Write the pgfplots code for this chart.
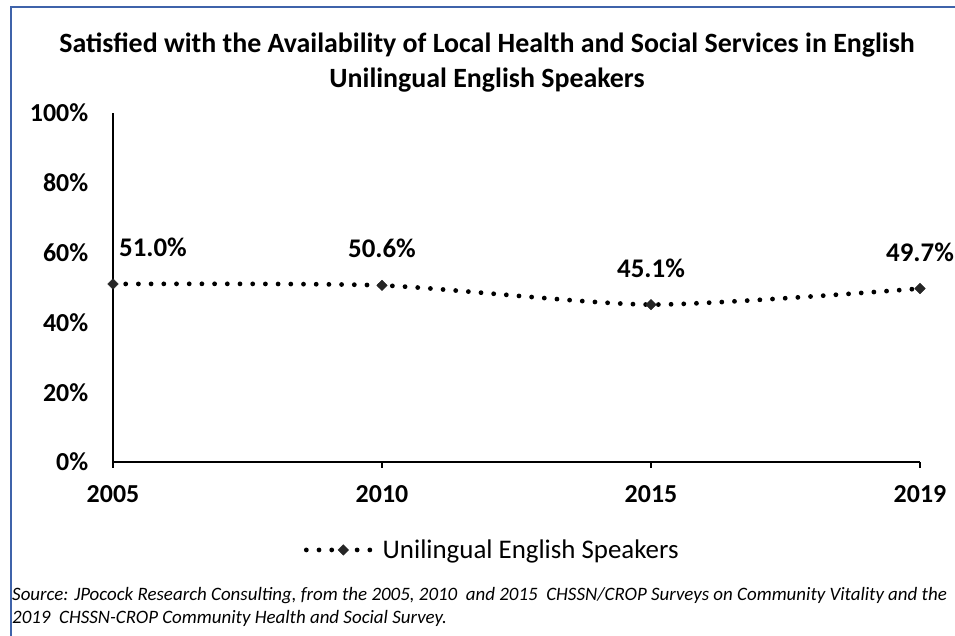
\documentclass[border=0pt]{standalone}
\usepackage{pgfplots}
\pgfplotsset{compat=1.18}
\usepackage{fontspec}
\setmainfont{Carlito}
\definecolor{framec}{HTML}{3F63AA}
\definecolor{markc}{HTML}{262626}
\begin{document}
\begin{tikzpicture}
\path[use as bounding box] (0bp,0bp) rectangle (955bp,636bp);
\draw[framec, line width=2.2bp] (11bp,0bp) -- (11bp,629bp) -- (955bp,629bp);
\node[font=\fontsize{28}{32}\selectfont\bfseries] at (487bp,591bp) {Satisfied with the Availability of Local Health and Social Services in English};
\node[font=\fontsize{28}{32}\selectfont\bfseries] at (487bp,556bp) {Unilingual English Speakers};
\node[font=\fontsize{19}{22}\selectfont\itshape, anchor=west, inner sep=0pt] at (12bp,40bp) {Source: JPocock Research Consulting, from the 2005, 2010\ \ and 2015\ \ CHSSN/CROP Surveys on Community Vitality and the};
\node[font=\fontsize{19}{22}\selectfont\itshape, anchor=west, inner sep=0pt] at (12bp,18bp) {2019\ \ CHSSN-CROP Community Health and Social Survey.};
\begin{axis}[
  at={(113bp,174bp)}, anchor=south west,
  scale only axis, width=807bp, height=349bp,
  xmin=0, xmax=3, ymin=0, ymax=100,
  clip=false,
  axis lines*=left,
  axis line style={black, line width=1.6bp},
  xtick={0,1,2,3}, xticklabels={2005,2010,2015,2019},
  ytick={0,20,40,60,80,100},
  yticklabel={\pgfmathprintnumber{\tick}\%},
  ticklabel style={font=\fontsize{26}{30}\selectfont\bfseries},
  xtick style={black, line width=1.6bp},
  tick align=outside,
  xtick style={/pgfplots/major tick length=6bp},
  ytick style={draw=none},
  xticklabel style={yshift=-16bp},
  yticklabel style={xshift=-17bp},
  /pgf/number format/assume math mode=true,
  legend style={at={(0.47,-0.252)}, anchor=center, draw=none, fill=none,
    font=\fontsize{27}{30}\selectfont, /tikz/every even column/.append style={column sep=0pt}},
  legend image code/.code={\draw[mark repeat=2, mark phase=2, #1] plot coordinates {(0bp,0bp) (37bp,0bp) (72bp,0bp)};},
  every node near coord/.append style={font=\fontsize{27}{30}\selectfont\bfseries, black, inner sep=0pt, anchor=south, yshift=27bp, xshift={(\rawx<0.5)*40bp}},
]
\addplot[black, line width=4.8bp, line cap=round, dash pattern=on 0bp off 12.7bp, smooth, tension=0.4,
  mark=square*, mark size=3.7bp, mark options={solid, rotate=45, fill=markc, draw=markc, line width=0.5bp},
  visualization depends on={x \as \rawx},
  nodes near coords={\pgfmathprintnumber[fixed,fixed zerofill,precision=1]{\pgfplotspointmeta}\%},
  point meta=y]
coordinates {(0,51.0) (1,50.6) (2,45.1) (3,49.7)};
\addlegendentry{Unilingual English Speakers}
\end{axis}
\end{tikzpicture}
\end{document}
